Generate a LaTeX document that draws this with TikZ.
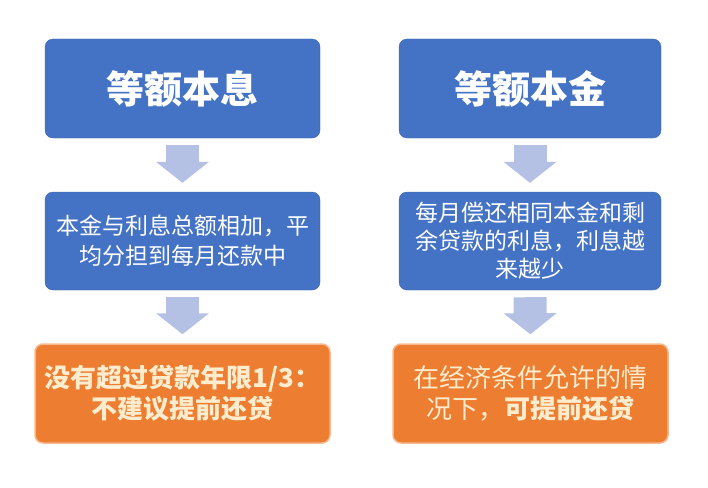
\documentclass[tikz,border=0pt]{standalone}
\usepackage{fontspec}
\setmainfont{Noto Sans CJK SC}
\usetikzlibrary{arrows.meta}

\definecolor{boxblue}{RGB}{68,114,196}
\definecolor{boxorange}{RGB}{237,125,49}
\definecolor{rimorange}{RGB}{246,184,140}
\definecolor{arrowblue}{RGB}{180,192,228}
\definecolor{cream}{RGB}{253,236,205}

\tikzset{
  bluebox/.style={rounded corners=8pt, fill=boxblue, draw=boxblue!90!black, text=white, align=center, inner sep=0pt},
  orangebox/.style={rounded corners=8pt, fill=boxorange, draw=rimorange, line width=1.5pt, text=cream, align=center, inner sep=0pt},
  fatarrow/.style={arrowblue, line width=33pt, -{Triangle[length=21pt,width=52pt]}, shorten <=7pt, shorten >=9pt}
}

\begin{document}
\begin{tikzpicture}[x=1pt, y=-1pt]
            \useasboundingbox (0, 0) rectangle (708, 487);

            % left column
            \node[bluebox, minimum width=275pt, minimum height=99pt, font=\fontsize{38}{42}\selectfont\bfseries] (benxi) at (182.5, 88.5) {等额本息};
            \node[bluebox, minimum width=275pt, minimum height=98pt, font=\fontsize{23}{30}\selectfont] (pingjun) at (182.5, 241) {本金与利息总额相加，平\\均分担到每月还款中};
            \node[orangebox, minimum width=295pt, minimum height=99pt, font=\fontsize{26}{31}\selectfont\bfseries] (bujianyi) at (182.5, 393.5) {没有超过贷款年限1/3：\\不建议提前还贷};

            % right column
            \node[bluebox, minimum width=262pt, minimum height=99pt, font=\fontsize{38}{42}\selectfont\bfseries] (benjin) at (530, 88.5) {等额本金};
            \node[bluebox, minimum width=262pt, minimum height=98pt, font=\fontsize{23}{28}\selectfont] (yuexiao) at (530, 241) {每月偿还相同本金和剩\\余贷款的利息，利息越\\来越少};
            \node[orangebox, minimum width=275pt, minimum height=99pt, font=\fontsize{26}{31}\selectfont] (ketiqian) at (530.5, 393.5) {在经济条件允许的情\\况下，\textbf{可提前还贷}};

            \draw[fatarrow] (benxi.south) -- (pingjun.north);
            \draw[fatarrow] (pingjun.south) -- (bujianyi.north);
            \draw[fatarrow] (benjin.south) -- (yuexiao.north);
            \draw[fatarrow] (yuexiao.south) -- (ketiqian.north);
        \end{tikzpicture}
\end{document}
